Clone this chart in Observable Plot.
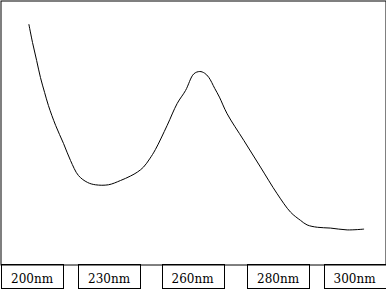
<!DOCTYPE html>
<html>
<head>
<meta charset="utf-8">
<script src="https://cdn.jsdelivr.net/npm/d3@7"></script>
<script src="https://cdn.jsdelivr.net/npm/@observablehq/plot@0.6"></script>
<style>
  html, body { margin: 0; padding: 0; background: #fff; }
  #chart svg { display: block; }
</style>
</head>
<body>
<div id="chart"></div>
<script>
// Absorption spectrum (wavelength in nm, absorbance in arbitrary units)
const wavelength = [198.8, 200.2, 201.8, 203.3, 204.9, 206.4, 209.2, 212.3, 215.0, 218.1,
  221.6, 224.7, 229.8, 234.1, 237.7, 240.2, 242.4, 244.6, 246.7, 250.9,
  254.5, 257.5, 260.3, 261.7, 262.8, 263.8, 265.2, 266.3, 268.1, 272.0,
  275.9, 279.8, 283.3, 285.9, 287.6, 290.3, 293.7, 298.1, 302.4];
const absorbance = [0.909, 0.841, 0.773, 0.708, 0.652, 0.602, 0.527, 0.458, 0.394, 0.337,
  0.311, 0.302, 0.302, 0.318, 0.335, 0.350, 0.369, 0.400, 0.436, 0.527,
  0.610, 0.659, 0.722, 0.731, 0.725, 0.709, 0.667, 0.634, 0.571, 0.470,
  0.369, 0.268, 0.198, 0.167, 0.150, 0.141, 0.138, 0.131, 0.134];
const tickValues = [200, 230, 260, 280, 300];
const tickLabels = ["200nm", "230nm", "260nm", "280nm", "300nm"];

const spectrum = wavelength.map((w, i) => ({w, a: absorbance[i]}));
const ticks = tickValues.map((v, i) => ({v, label: tickLabels[i]}));

const chart = Plot.plot({
  width: 386,
  height: 289,
  marginTop: 0.5,
  marginLeft: 0.5,
  marginRight: 0.5,
  marginBottom: 24.5,
  style: {fontFamily: "DejaVu Serif", fontSize: "12px", background: "#fff", color: "#000"},
  x: {type: "linear", domain: tickValues, range: [31.5, 108.5, 192, 277.5, 354], axis: null},
  y: {domain: [0, 1], range: [264, 0], axis: null},
  marks: [
    Plot.frame({stroke: "#000", strokeWidth: 1}),
    Plot.line(spectrum, {x: "w", y: "a", stroke: "#000", strokeWidth: 1, curve: "catmull-rom"}),
    Plot.text(ticks, {x: "v", text: "label", frameAnchor: "bottom", dy: 14.5, lineAnchor: "middle",
      fontSize: 12, fill: "#000"})
  ]
});
document.getElementById("chart").appendChild(chart);

// Draw a box around each wavelength label
const svgNS = "http://www.w3.org/2000/svg";
const labels = Array.from(chart.querySelectorAll("text"));
labels.forEach(t => {
  const b = t.getBBox();
  const m = t.getCTM ? t.getCTM() : null;
  const cx = b.x + b.width / 2 + (m ? m.e : 0);
  const half = Math.round(b.width / 2 + 10);
  const rect = document.createElementNS(svgNS, "rect");
  rect.setAttribute("x", Math.round(cx) - half + 0.5);
  rect.setAttribute("y", 264.5);
  rect.setAttribute("width", 2 * half);
  rect.setAttribute("height", 24);
  rect.setAttribute("fill", "none");
  rect.setAttribute("stroke", "#000");
  rect.setAttribute("stroke-width", 1);
  chart.appendChild(rect);
});
</script>
</body>
</html>
